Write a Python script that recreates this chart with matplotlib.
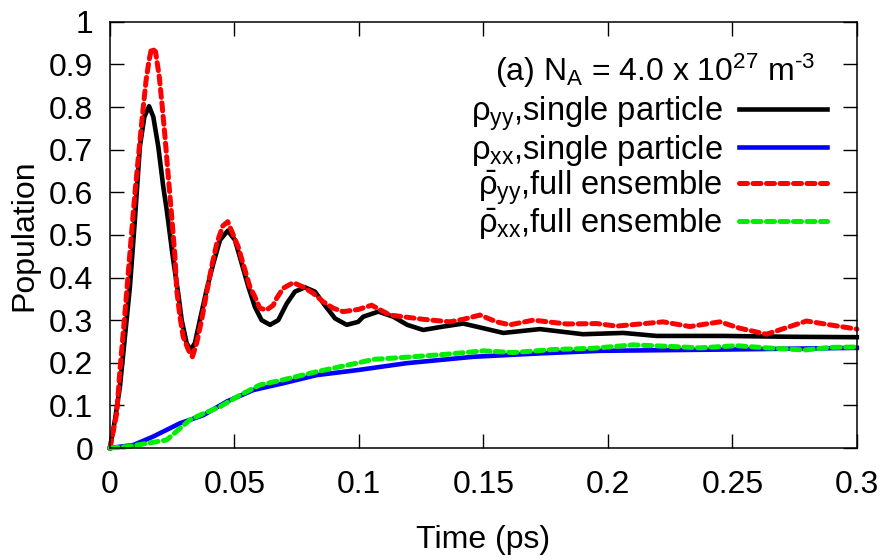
import matplotlib
matplotlib.use('Agg')
import matplotlib.pyplot as plt
from matplotlib.ticker import FormatStrFormatter

plt.rcParams['font.family'] = ['Liberation Sans', 'DejaVu Sans']
plt.rcParams['mathtext.fontset'] = 'custom'
plt.rcParams['mathtext.rm'] = 'Liberation Sans'
plt.rcParams['mathtext.it'] = 'Liberation Sans'
plt.rcParams['mathtext.bf'] = 'Liberation Sans:bold'

# rho_yy, single particle (black)
t_yy_sp = [0, 0.002, 0.004, 0.006, 0.008, 0.010, 0.012, 0.0138, 0.0157, 0.0174,
           0.0194, 0.0214, 0.0228, 0.0254, 0.0274, 0.0288, 0.0308, 0.0324, 0.0341,
           0.0361, 0.0388, 0.0415, 0.0442, 0.0473, 0.0502, 0.0529, 0.0556, 0.0582,
           0.0609, 0.0643, 0.0676, 0.0710, 0.0743, 0.0783, 0.0823, 0.0863, 0.0904,
           0.0951, 0.0997, 0.1017, 0.1078, 0.1138, 0.1194, 0.1258, 0.1339, 0.1419,
           0.1500, 0.1580, 0.1727, 0.1900, 0.2062, 0.2195, 0.2463, 0.2731, 0.3]
p_yy_sp = [0, 0.066, 0.144, 0.261, 0.378, 0.535, 0.707, 0.777, 0.802, 0.777,
           0.707, 0.613, 0.558, 0.441, 0.363, 0.300, 0.246, 0.230, 0.246,
           0.300, 0.371, 0.433, 0.488, 0.510, 0.488, 0.433, 0.378, 0.331,
           0.300, 0.289, 0.300, 0.339, 0.367, 0.377, 0.367, 0.335, 0.304,
           0.289, 0.296, 0.308, 0.320, 0.308, 0.289, 0.277, 0.285, 0.292,
           0.281, 0.270, 0.279, 0.267, 0.270, 0.263, 0.263, 0.261, 0.260]

# rho_xx, single particle (blue)
t_xx_sp = [0, 0.0094, 0.0174, 0.0281, 0.0375, 0.0469, 0.0576, 0.0696, 0.083,
           0.0997, 0.1191, 0.1459, 0.1727, 0.1968, 0.2463, 0.3]
p_xx_sp = [0, 0.007, 0.027, 0.058, 0.077, 0.109, 0.136, 0.152, 0.171,
           0.183, 0.199, 0.214, 0.222, 0.228, 0.231, 0.235]

# rho_yy, full ensemble (red)
t_yy_fe = [0, 0.0027, 0.004, 0.006, 0.008, 0.010, 0.0118, 0.0131, 0.0145, 0.0157,
           0.0167, 0.0183, 0.0198, 0.0210, 0.0221, 0.0232, 0.0248, 0.0261, 0.0268,
           0.0281, 0.0294, 0.0315, 0.0331, 0.0348, 0.0368, 0.0388, 0.0408, 0.0429,
           0.0453, 0.0473, 0.0495, 0.0515, 0.0542, 0.0562, 0.0582, 0.0602, 0.0629,
           0.0656, 0.0669, 0.0696, 0.0736, 0.0776, 0.0816, 0.0857, 0.0897, 0.0937,
           0.0997, 0.1051, 0.1124, 0.1258, 0.1365, 0.1419, 0.1486, 0.1553, 0.1606,
           0.1700, 0.1834, 0.1955, 0.2035, 0.2222, 0.2329, 0.2450, 0.2530, 0.2637,
           0.2731, 0.2798, 0.2892, 0.3]
p_yy_fe = [0, 0.081, 0.183, 0.316, 0.457, 0.597, 0.707, 0.785, 0.863, 0.910,
           0.938, 0.930, 0.871, 0.801, 0.730, 0.652, 0.543, 0.449, 0.371,
           0.308, 0.261, 0.230, 0.214, 0.246, 0.300, 0.363, 0.425, 0.480,
           0.521, 0.531, 0.500, 0.472, 0.418, 0.378, 0.355, 0.328, 0.324,
           0.335, 0.351, 0.375, 0.388, 0.378, 0.363, 0.343, 0.328, 0.320,
           0.325, 0.335, 0.312, 0.302, 0.296, 0.302, 0.312, 0.296, 0.289,
           0.300, 0.291, 0.292, 0.286, 0.296, 0.285, 0.296, 0.281, 0.267,
           0.285, 0.298, 0.289, 0.279]

# rho_xx, full ensemble (green)
t_xx_fe = [0, 0.0067, 0.0161, 0.0228, 0.0281, 0.0321, 0.0361, 0.0442, 0.0522,
           0.0602, 0.0696, 0.083, 0.0991, 0.1058, 0.1191, 0.1352, 0.1500, 0.1620,
           0.1780, 0.1941, 0.2102, 0.2262, 0.2369, 0.2517, 0.2637, 0.2791, 0.2892,
           0.3]
p_xx_fe = [0, 0.003, 0.012, 0.019, 0.046, 0.066, 0.077, 0.097, 0.124,
           0.148, 0.160, 0.179, 0.199, 0.208, 0.213, 0.220, 0.228, 0.224,
           0.231, 0.234, 0.242, 0.238, 0.235, 0.240, 0.235, 0.230, 0.236,
           0.237]

labels = ['ρ$_{\\mathrm{yy}}$,single particle',
          'ρ$_{\\mathrm{xx}}$,single particle',
          '$\\bar{\\rho}_{\\mathrm{yy}}$,full ensemble',
          '$\\bar{\\rho}_{\\mathrm{xx}}$,full ensemble']
title = '(a) N$_{\\mathrm{A}}$ = 4.0 x 10$^{27}$ m$^{\\text{-3}}$'

fig = plt.figure(figsize=(8.87, 5.6), dpi=100)
ax = fig.add_axes([0.124, 0.2, 0.842, 0.761])

ax.plot(t_yy_sp, p_yy_sp, color='black', lw=3.3, label=labels[0], clip_on=False)
ax.plot(t_xx_sp, p_xx_sp, color='#0000ff', lw=3.3, label=labels[1], clip_on=False)
ax.plot(t_yy_fe, p_yy_fe, color='#ff0000', lw=3.6, ls=(0, (1.6, 1.1)),
        dash_capstyle='round', label=labels[2], clip_on=False)
ax.plot(t_xx_fe, p_xx_fe, color='#00ee00', lw=3.6, ls=(0, (1.6, 1.1)),
        dash_capstyle='round', label=labels[3], clip_on=False)

ax.set_xlim(0, 0.3)
ax.set_ylim(0, 1)
ax.set_xticks([0, 0.05, 0.1, 0.15, 0.2, 0.25, 0.3])
ax.set_yticks([0, 0.1, 0.2, 0.3, 0.4, 0.5, 0.6, 0.7, 0.8, 0.9, 1])
ax.xaxis.set_major_formatter(FormatStrFormatter('%g'))
ax.yaxis.set_major_formatter(FormatStrFormatter('%g'))
ax.tick_params(direction='in', length=10, width=1, top=True, right=True, labelsize=23)
ax.tick_params(axis='x', pad=16)
ax.tick_params(axis='y', pad=12)
for s in ax.spines.values():
    s.set_linewidth(1.1)

ax.set_xlabel('Time (ps)', fontsize=23, labelpad=18)
ax.set_ylabel('Population', fontsize=23, labelpad=7)

ax.text(0.945, 0.885, title, transform=ax.transAxes,
        ha='right', va='center', fontsize=23)

ax.legend(loc='upper right', bbox_to_anchor=(0.96, 0.83), markerfirst=False, frameon=False,
          fontsize=23.5, handlelength=2.7, handletextpad=0.5, labelspacing=0.0,
          borderpad=0, borderaxespad=0)

plt.savefig('out.png', dpi=100)
